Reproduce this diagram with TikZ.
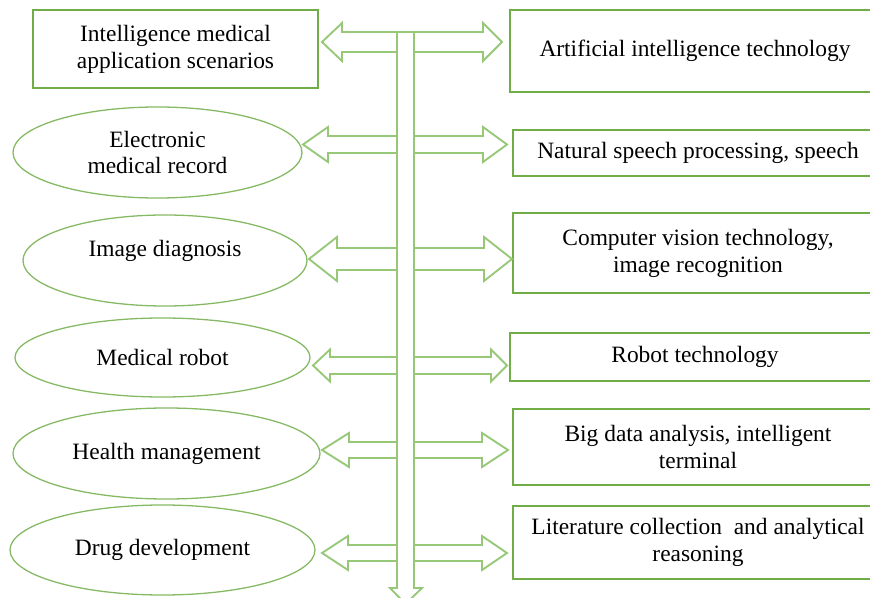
\documentclass[tikz,border=0pt]{standalone}
\usepackage{fontspec}
\setmainfont{Liberation Serif}
\newfontfamily\timesface{Liberation Serif}
\usetikzlibrary{shapes.geometric,calc}
\definecolor{boxgreen}{RGB}{112,173,71}
\definecolor{arrowgreen}{RGB}{150,200,120}

\begin{document}
\begin{tikzpicture}[x=0.03cm, y=-0.03cm,
    box style/.style={draw=boxgreen, line width=1.5pt, rectangle, inner sep=0pt, outer sep=0pt, align=center, font=\timesface\fontsize{20}{23}\selectfont},
    oval style/.style={draw=boxgreen!85, line width=1.1pt, ellipse, inner sep=0pt, outer sep=0pt, align=center, font=\timesface\fontsize{20}{23}\selectfont},
    arrow style/.style={draw=arrowgreen, line width=1.6pt, line join=miter},]
    \useasboundingbox (0,0) rectangle (870,598);
    \clip (0,0) rectangle (870,598);

    \pgfmathsetmacro{\barl}{397}
    \pgfmathsetmacro{\barr}{414}

    % application scenarios
    \node[box style, minimum width=8.55cm, minimum height=2.34cm] (scen) at (175.5,49) {Intelligence medical\\application scenarios};
    \node[oval style, minimum width=8.67cm, minimum height=2.73cm] (emr) at (157.5,152.5) {Electronic\\medical record};
    \node[oval style, minimum width=8.52cm, minimum height=2.73cm] (img) at (165,260.5) {\raisebox{8pt}[\height][\depth]{Image diagnosis}};
    \node[oval style, minimum width=8.85cm, minimum height=2.37cm] (robot) at (162.5,357.5) {Medical robot};
    \node[oval style, minimum width=9.21cm, minimum height=2.73cm] (health) at (166.5,453.5) {Health management};
    \node[oval style, minimum width=9.15cm, minimum height=2.7cm] (drug) at (162.5,550) {Drug development};

    % technologies
    \node[box style, minimum width=11.1cm, minimum height=2.46cm] (tech) at (695,51) {Artificial intelligence technology};
    \node[box style, minimum width=11.1cm, minimum height=1.38cm] (speech) at (698,153) {Natural speech processing, speech};
    \node[box style, minimum width=11.1cm, minimum height=2.4cm] (vision) at (698,253) {Computer vision technology,\\image recognition};
    \node[box style, minimum width=11.1cm, minimum height=1.44cm] (robtech) at (695,357) {Robot technology};
    \node[box style, minimum width=11.1cm, minimum height=2.28cm] (bigdata) at (698,447) {Big data analysis, intelligent\\terminal};
    \node[box style, minimum width=11.1cm, minimum height=2.19cm] (lit) at (698,542.5) {Literature collection~ and analytical\\reasoning};

    \foreach \l/\r/\ym/\sw/\hw/\lb/\rb/\lg/\rg in {scen/tech/42/10/19/342/483/4/8,
        emr/speech/144.5/8.5/17.5/328/483/1/6, img/vision/259/11/22/337/484/2/1,
        robot/robtech/365.5/8.5/16/330/491/3/3, health/bigdata/450/8/17/349/482/2/5,
        drug/lit/553/8/17/348/482/7/6}
    {
        \coordinate (ym) at (0,\ym);
        \coordinate (lt) at ($(\l.east |- ym)+(\lg,0)$);
        \coordinate (rt) at ($(\r.west |- ym)-(\rg,0)$);
        \draw[arrow style] (\barl,\ym-\sw) -- (\lb,\ym-\sw) -- (\lb,\ym-\hw) -- (lt) -- (\lb,\ym+\hw) -- (\lb,\ym+\sw) -- (\barl,\ym+\sw);
        \draw[arrow style] (\barr,\ym-\sw) -- (\rb,\ym-\sw) -- (\rb,\ym-\hw) -- (rt) -- (\rb,\ym+\hw) -- (\rb,\ym+\sw) -- (\barr,\ym+\sw);
    }

    \draw[arrow style] (\barl,588) -- (\barl,32) -- (\barr,32) -- (\barr,588) -- (422,588) -- (405.5,604) -- (390,588) -- cycle;

\end{tikzpicture}
\end{document}
